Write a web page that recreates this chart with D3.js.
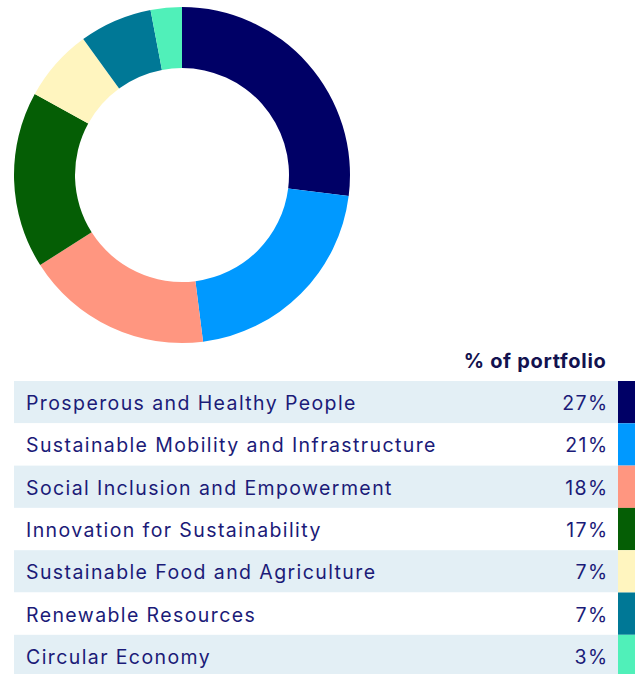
<!DOCTYPE html>
<html lang="en">
<head>
    <meta charset="UTF-8">
    <title>Portfolio allocation</title>
    <script src="https://d3js.org/d3.v7.min.js"></script>
    <style>
        html, body { margin: 0; padding: 0; background: #fff; }
        svg { display: block; }
        text { font-family: Inter, "Noto Sans", sans-serif; fill: #1b1b78; }
        .header { font-weight: bold; font-size: 20px; letter-spacing: 0.7px; fill: #12124f; }
        .label, .value { font-size: 19.5px; letter-spacing: 1.4px; }
    </style>
</head>
<body>
    <svg width="635" height="674"></svg>
    <script>
        const categories = [
            "Prosperous and Healthy People",
            "Sustainable Mobility and Infrastructure",
            "Social Inclusion and Empowerment",
            "Innovation for Sustainability",
            "Sustainable Food and Agriculture",
            "Renewable Resources",
            "Circular Economy"
        ];
        const shares = [27, 21, 18, 17, 7, 7, 3];
        const colors = ["#000066", "#0099ff", "#ff9680", "#055e05", "#fff5bf", "#007896", "#50f0b9"];
        const headerLabel = "% of portfolio";

        const svg = d3.select("svg");
        const data = categories.map((c, i) => ({ name: c, value: shares[i], color: colors[i] }));

        // donut
        const pie = d3.pie().value(d => d.value).sort(null);
        const arc = d3.arc().innerRadius(107).outerRadius(168);

        svg.append("g")
            .attr("transform", "translate(182,175)")
            .selectAll("path")
            .data(pie(data))
            .enter()
            .append("path")
            .attr("d", arc)
            .attr("fill", d => d.data.color);

        // table
        const rowTop = 381, rowH = 42.3;
        const y = d3.scaleBand()
            .domain(categories)
            .range([rowTop, rowTop + rowH * categories.length])
            .padding(0);

        svg.append("text")
            .attr("class", "header")
            .attr("x", 606.5)
            .attr("y", 368)
            .attr("text-anchor", "end")
            .text(headerLabel);

        const rows = svg.selectAll(".row")
            .data(data)
            .enter()
            .append("g")
            .attr("class", "row")
            .attr("transform", d => `translate(0,${y(d.name)})`);

        rows.append("rect")
            .attr("x", 14)
            .attr("width", 604)
            .attr("height", y.bandwidth())
            .attr("fill", (d, i) => i % 2 === 0 ? "#e3eff5" : "#ffffff");

        rows.append("rect")
            .attr("x", 618)
            .attr("width", 17)
            .attr("height", y.bandwidth())
            .attr("fill", d => d.color);

        rows.append("text")
            .attr("class", "label")
            .attr("x", 26)
            .attr("y", 29)
            .text(d => d.name);

        rows.append("text")
            .attr("class", "value")
            .attr("x", 608.5)
            .attr("y", 29)
            .attr("text-anchor", "end")
            .text(d => d.value + "%");
    </script>
</body>
</html>
